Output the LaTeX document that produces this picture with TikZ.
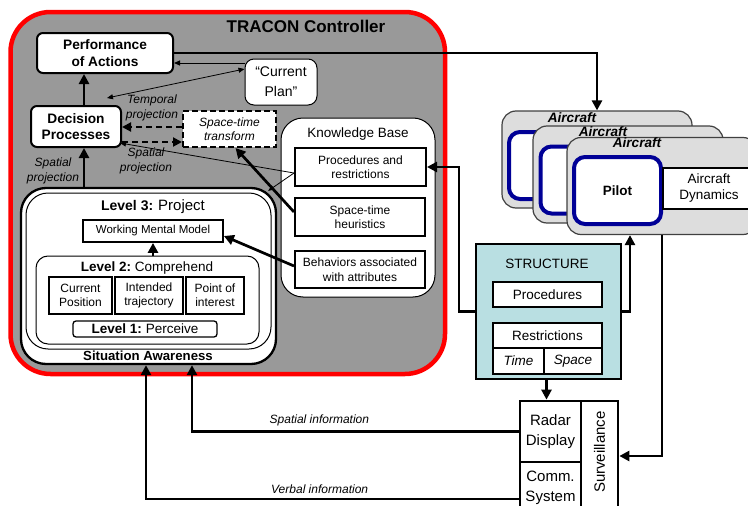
\documentclass[tikz,border=0pt]{standalone}
\usepackage{fontspec}
\setmainfont{Liberation Sans}
\usetikzlibrary{arrows.meta,calc}
\definecolor{trgray}{RGB}{153,153,153}
\definecolor{acgray}{RGB}{221,221,221}
\definecolor{stcyan}{RGB}{185,223,226}
\definecolor{pblue}{RGB}{0,0,150}
\definecolor{tred}{RGB}{255,0,0}
\newcommand\fBold{\fontsize{13.7}{16.5}\selectfont\bfseries}
\newcommand\fKb{\fontsize{12}{14.5}\selectfont}
\newcommand\fLbl{\fontsize{12}{15}\selectfont\itshape}
\newcommand\fMid{\fontsize{13.5}{16}\selectfont}
\tikzset{
  box/.style={draw, fill=white, inner sep=0pt, align=center},
  thickbox/.style={box, line width=2pt},
  thk/.style={line width=2.7pt, -{Triangle[length=10pt,width=10pt]}},
  thn/.style={line width=0.8pt, -{Triangle[length=6pt,width=5pt]}},
  thnboth/.style={line width=0.8pt, {Triangle[length=6pt,width=5pt]}-{Triangle[length=6pt,width=5pt]}},
  dsh/.style={line width=2pt, dash pattern=on 6pt off 4pt, -{Triangle[length=9pt,width=9pt]}},
  lbl/.style={inner sep=0pt, align=center, font=\fLbl},
  acbox/.style={draw=black!75, line width=1.2pt, fill=acgray, rounded corners=14pt, minimum width=190pt, minimum height=97pt, inner sep=0pt},
  pbox/.style={draw=pblue, line width=4pt, fill=white, rounded corners=11pt, minimum width=87pt, minimum height=67pt, inner sep=0pt, font=\fMid\bfseries},
  acl/.style={inner sep=0pt, font=\fontsize{13.6}{16}\selectfont\bfseries\itshape},
}
\begin{document}
\begin{tikzpicture}[x=1pt,y=-1pt]
\useasboundingbox (0,0) rectangle (748,506);
\clip (0,0) rectangle (748,506);

% TRACON container
\node[draw=tred, line width=4.5pt, fill=trgray, rounded corners=40pt, minimum width=434.5pt, minimum height=362pt, inner sep=0pt] (tracon) at (227.75,193) {};
\node[inner sep=0pt, font=\fontsize{17}{20}\selectfont\bfseries] (title) at (306,26) {TRACON Controller};

% left column
\node[box, line width=2pt, rounded corners=6pt, minimum width=136pt, minimum height=40pt, font=\fBold] (perf) at (105,53) {Performance\\of Actions};
\node[box, line width=1pt, rounded corners=9pt, minimum width=72pt, minimum height=46pt, font=\fontsize{14}{20}\selectfont] (plan) at (281,82) {“Current\\Plan”};
\node[box, line width=2pt, rounded corners=6pt, minimum width=90pt, minimum height=41pt, font=\fBold] (dp) at (76,126.5) {Decision\\Processes};
\node[box, line width=2pt, dash pattern=on 6pt off 3pt, minimum width=93pt, minimum height=36pt, font=\fontsize{12}{14}\selectfont\itshape] (stt) at (229.5,129) {Space-time\\transform};

\node[lbl] (tproj) at (152,108) {Temporal\\projection};
\node[lbl] (sproj) at (146,160.5) {Spatial\\projection};
\node[lbl] (sprojl) at (53,170.5) {Spatial\\projection};

% Knowledge base
\node[box, line width=1pt, rounded corners=22pt, minimum width=154pt, minimum height=179pt] (kb) at (358,207.5) {};
\node[inner sep=0pt, font=\fMid] (kbt) at (358,134) {Knowledge Base};
\node[thickbox, minimum width=131pt, minimum height=38pt, font=\fKb] (pr) at (360.5,167) {Procedures and\\restrictions};
\node[thickbox, minimum width=130pt, minimum height=38pt, font=\fKb] (sth) at (360,217) {Space-time\\heuristics};
\node[thickbox, minimum width=130pt, minimum height=37pt, font=\fKb] (beh) at (360,269.5) {Behaviors associated\\with attributes};

% Situation awareness
\node[box, line width=2.3pt, rounded corners=25pt, minimum width=255pt, minimum height=176pt] (sao) at (148.5,276) {};
\node[draw, line width=1pt, rounded corners=22pt, minimum width=245pt, minimum height=156pt, inner sep=0pt] (sai) at (148.5,271) {};
\node[inner sep=0pt] (l3) at (153,207) {\fontsize{14}{16}\selectfont\bfseries Level 3:\hspace{5pt}\fontsize{15}{17}\selectfont\mdseries Project};
\node[box, line width=1.8pt, minimum width=140pt, minimum height=22pt, font=\fontsize{11.5}{14}\selectfont] (wmm) at (153,231) {Working Mental Model};
\node[draw, line width=1pt, rounded corners=12pt, minimum width=223pt, minimum height=88pt, inner sep=0pt] (lv2) at (147.5,300) {};
\node[inner sep=0pt] (l2) at (147,268) {\fontsize{13.5}{16}\selectfont\bfseries Level 2:\ \mdseries Comprehend};
\node[thickbox, minimum width=63pt, minimum height=37pt, font=\fontsize{12}{14}\selectfont] (cp) at (80.5,295.5) {Current\\Position};
\node[thickbox, minimum width=68pt, minimum height=37pt, font=\fontsize{12}{14}\selectfont] (it) at (149,295.5) {Intended\\trajectory};
\node[thickbox, minimum width=58pt, minimum height=37pt, font=\fontsize{12}{14}\selectfont] (poi) at (215,295.5) {Point of\\interest};
\node[box, line width=1.3pt, rounded corners=3pt, minimum width=144pt, minimum height=16pt] (lv1) at (145,329) {\fontsize{13.5}{16}\selectfont\bfseries Level 1:\ \mdseries Perceive};
\node[inner sep=0pt, font=\fontsize{13.2}{16}\selectfont\bfseries] (sat) at (148,356) {Situation Awareness};

% Aircraft
\node[acbox] (back) at (597,159.5) {};
\node[acl] (backt) at (572,117.5) {Aircraft};
\node[pbox] (backp) at (552.5,165.5) {};
\node[acbox] (mid) at (628,174.5) {};
\node[acl] (midt) at (603,132) {Aircraft};
\node[pbox] (midp) at (584,180) {};
\node[acbox] (front) at (662,186) {};
\node[acl] (frontt) at (637,143) {Aircraft};
\node[pbox] (pilot) at (617.5,190.5) {Pilot};
\node[thickbox, minimum width=92pt, minimum height=41pt, font=\fontsize{13.5}{16}\selectfont] (dyn) at (709,188.5) {Aircraft\\Dynamics};

% Structure
\node[draw, line width=2pt, fill=stcyan, minimum width=145pt, minimum height=135pt, inner sep=0pt] (struct) at (548.5,311.5) {};
\node[inner sep=0pt, font=\fMid] (structt) at (547,264) {STRUCTURE};
\node[thickbox, minimum width=109pt, minimum height=25pt, font=\fMid] (procs) at (547.5,294.5) {Procedures};
\node[thickbox, minimum width=109pt, minimum height=25pt, font=\fMid] (restr) at (547.5,335.5) {Restrictions};
\node[thickbox, minimum width=51pt, minimum height=26pt, font=\fMid\itshape] (time) at (518.5,361) {Time};
\node[thickbox, minimum width=58pt, minimum height=26pt, font=\fMid\itshape] (space) at (573,361) {Space};

% Displays
\node[box, line width=2.7pt, minimum width=61pt, minimum height=61pt, font=\fontsize{15}{19.5}\selectfont] (radar) at (550.5,431.5) {Radar\\Display};
\node[box, line width=2.7pt, minimum width=61pt, minimum height=52pt, font=\fontsize{15}{19.5}\selectfont] (comm) at (550.5,488) {Comm.\\System};
\node[box, line width=2.7pt, minimum width=37pt, minimum height=113pt] (surv) at (599.5,457.5) {};
\node[inner sep=0pt, rotate=90, font=\fontsize{15}{18}\selectfont] (survt) at (599.5,452) {Surveillance};

% connectors
\draw[thk] ([xshift=8pt]dp.north) -- ([xshift=8pt]dp.north |- perf.south);
\draw[thk] ([xshift=8pt]dp.south |- sao.north) -- ([xshift=8pt]dp.south);
\draw[thn] ([yshift=19pt]plan.west) -- ([yshift=19pt]plan.west -| perf.east);
\draw[thnboth] ([shift={(31pt,7pt)}]dp.north) -- ([yshift=13pt]plan.west);
\draw[dsh] ([yshift=2pt]stt.west) -- ([yshift=2pt]stt.west -| dp.east);
\draw[dsh] ([yshift=-13pt]stt.west -| dp.east) -- ([yshift=-13pt]stt.west);
\draw[thn] ([yshift=-6pt]pr.west) -- ([shift={(-2pt,5pt)}]dp.south east);
\draw[thn] ([yshift=-6pt]pr.west) -- ([shift={(-9pt,-4pt)}]sao.north east);
\draw[thk] ([yshift=5pt]sth.west) -- ([xshift=6pt]stt.south);
\draw[thk] ([yshift=3.5pt]beh.west) -- ([yshift=-5pt]wmm.east);
\draw[thk] (lv2.north -| wmm.south) -- (wmm.south);

\draw[thk] (perf.east) -| (back.north);
\draw[thk] (struct.west) -- ++(-16,0) |- (pr.east);
\draw[thk] (struct.east) -- ++(8,0) coordinate (sx) -- (sx |- front.south);
\draw[thk] (front.south) |- ([yshift=1.5pt]surv.east);
\draw[thk] ([xshift=-2pt]struct.south) -- ([xshift=-2pt]struct.south |- radar.north);
\draw[thk] (radar.west) -| node[lbl, above=4pt, pos=0.305] (spinf) {Spatial information} ([xshift=43.5pt]sao.south);
\draw[thk] ([yshift=-11pt]comm.west) -| node[lbl, above=4pt, pos=0.267] (vbinf) {Verbal information} ([xshift=-2.5pt]sao.south);
\end{tikzpicture}
\end{document}
